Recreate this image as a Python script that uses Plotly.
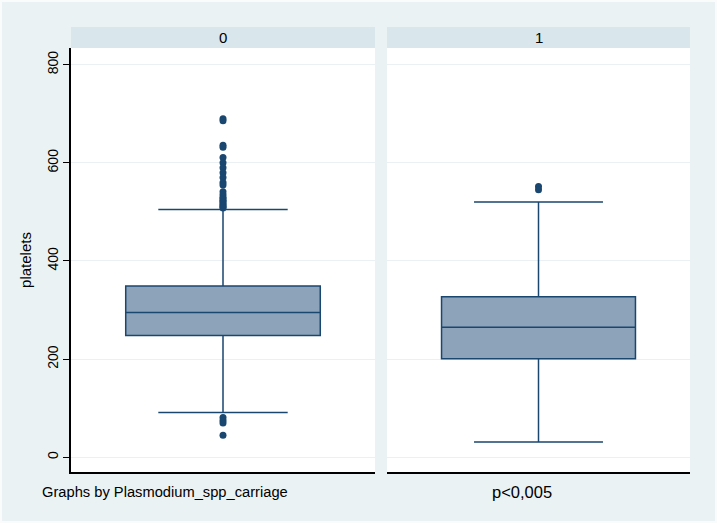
import plotly.graph_objects as go

# Data
groups = ["0", "1"]
q1 = [248, 201]
median = [295, 265]
q3 = [349, 327]
lower_whisker = [91, 31]
upper_whisker = [505, 520]
outliers_0 = [690, 686, 636, 632, 611, 600, 590, 580, 570, 560, 555, 541, 535,
              530, 527, 524, 521, 518, 515, 512, 510, 508, 81, 75, 70, 45]
outliers_1 = [552, 545]
y_ticks = [0, 200, 400, 600, 800]

W, H = 717, 523
navy = "rgb(26,71,111)"
fill = "rgb(141,163,186)"
bg = "rgb(234,242,243)"
strip = "rgb(217,230,235)"
grid = "rgb(234,240,243)"
font = "Liberation Sans, Arial, sans-serif"

fig = go.Figure()
outs = [outliers_0, outliers_1]
for i, g in enumerate(groups):
    xa = "x" if i == 0 else "x2"
    ya = "y" if i == 0 else "y2"
    fig.add_trace(go.Box(
        x=[0], q1=[q1[i]], median=[median[i]], q3=[q3[i]],
        lowerfence=[lower_whisker[i]], upperfence=[upper_whisker[i]],
        boxpoints=False, width=0.64, whiskerwidth=0.665,
        fillcolor=fill, line=dict(color=navy, width=1.5),
        xaxis=xa, yaxis=ya, showlegend=False, hoverinfo="skip"))
    fig.add_trace(go.Scatter(
        x=[0] * len(outs[i]), y=outs[i], mode="markers",
        marker=dict(color=navy, size=7, symbol="circle"),
        xaxis=xa, yaxis=ya, showlegend=False, hoverinfo="skip"))

px = lambda v: v / W
py = lambda v: 1 - v / H

x0d = [px(71), px(375)]
x1d = [px(387), px(690)]
yd = [py(472), py(48)]

common_x = dict(range=[-0.5, 0.5], showticklabels=False, ticks="", showgrid=False,
                zeroline=False, showline=True, linecolor="black", linewidth=1.5)
fig.update_layout(
    width=W, height=H, margin=dict(l=0, r=0, t=0, b=0),
    paper_bgcolor=bg, plot_bgcolor="white",
    font=dict(family=font, color="black", size=14),
    xaxis=dict(domain=x0d, anchor="y", **common_x),
    xaxis2=dict(domain=x1d, anchor="y2", **common_x),
    yaxis=dict(domain=yd, anchor="x", range=[-30, 834], tickvals=y_ticks,
               tickangle=-90, ticks="outside", ticklen=6, tickcolor="black",
               showline=True, linecolor="black", linewidth=1.5,
               showgrid=True, gridcolor=grid, gridwidth=1, zeroline=False,
               tickfont=dict(size=14, family=font),
               title=dict(text="platelets", font=dict(size=15, family=font), standoff=9)),
    yaxis2=dict(domain=yd, anchor="x2", matches="y", range=[-30, 834], tickvals=y_ticks,
                showticklabels=False, ticks="", showline=False,
                showgrid=True, gridcolor=grid, gridwidth=1, zeroline=False),
    shapes=[
        dict(type="rect", xref="paper", yref="paper", x0=x0d[0], x1=x0d[1],
             y0=py(48), y1=py(27), fillcolor=strip, line=dict(width=0), layer="below"),
        dict(type="rect", xref="paper", yref="paper", x0=x1d[0], x1=x1d[1],
             y0=py(48), y1=py(27), fillcolor=strip, line=dict(width=0), layer="below"),
        dict(type="rect", xref="paper", yref="paper", x0=0, x1=1, y0=0, y1=1,
             line=dict(color="rgb(250,251,251)", width=4), layer="above"),
    ],
    annotations=[
        dict(text=groups[0], xref="paper", yref="paper", x=sum(x0d) / 2, y=py(37.5),
             showarrow=False, xanchor="center", yanchor="middle", font=dict(size=15)),
        dict(text=groups[1], xref="paper", yref="paper", x=sum(x1d) / 2, y=py(37.5),
             showarrow=False, xanchor="center", yanchor="middle", font=dict(size=15)),
        dict(text="Graphs by Plasmodium_spp_carriage", xref="paper", yref="paper",
             x=px(40), y=py(492), showarrow=False, xanchor="left", yanchor="middle",
             font=dict(size=14.7)),
        dict(text="p<0,005", xref="paper", yref="paper",
             x=px(521.5), y=py(492), showarrow=False, xanchor="center", yanchor="middle",
             font=dict(size=16.5)),
    ],
)

fig.write_html("out.html", config={"displayModeBar": False},
               post_script="document.body.style.margin='0';document.body.style.overflow='hidden';")
